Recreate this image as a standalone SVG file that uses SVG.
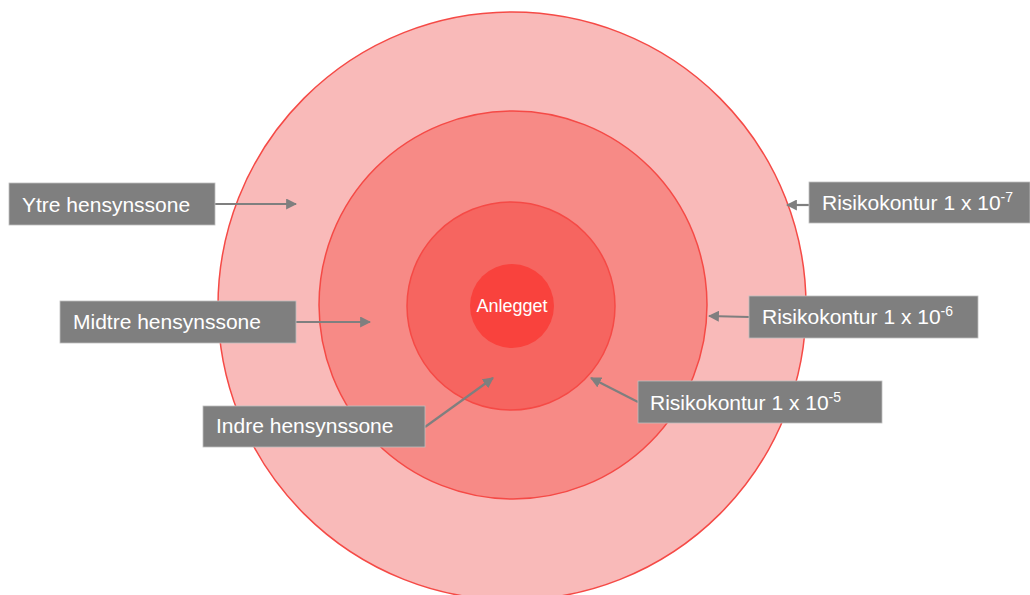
<svg xmlns="http://www.w3.org/2000/svg" width="1030" height="595" viewBox="0 0 1030 595">
<style>
.lbl{fill:#7f7f7f;stroke:#bfbfbf;stroke-width:0.8}
.t{font-family:"Liberation Sans",Arial,sans-serif;font-size:21px;fill:#ffffff}
.sup{font-size:14px}
.con{stroke:#7f7f7f;stroke-width:2.2;fill:none;marker-end:url(#ah)}
.ring{stroke:#f54a46;stroke-width:1.5}
</style>
<defs>
<marker id="ah" viewBox="0 0 10 10" refX="9" refY="5" markerWidth="5" markerHeight="5" orient="auto" markerUnits="strokeWidth">
<path d="M0,0 L10,5 L0,10 Z" fill="#7f7f7f"/>
</marker>
</defs>
<rect width="1030" height="595" fill="#ffffff"/>
<g id="outer"><circle class="ring" cx="512" cy="306" r="294" fill="#f9bab9"/></g>
<g id="middle"><circle class="ring" cx="513" cy="305" r="194" fill="#f78a86"/></g>
<g id="inner"><circle class="ring" cx="511" cy="306" r="104" fill="#f66560"/></g>
<g id="anlegget"><circle cx="512" cy="306" r="42" fill="#f9423d"/>
<text class="t" x="512" y="312" text-anchor="middle" style="font-size:18px">Anlegget</text></g>
<g id="connectors">
<line class="con" x1="215" y1="204" x2="296" y2="204"/>
<line class="con" x1="296" y1="322" x2="370" y2="322"/>
<line class="con" x1="425" y1="427" x2="493" y2="378"/>
<line class="con" x1="809" y1="205" x2="787" y2="205"/>
<line class="con" x1="749" y1="317" x2="709" y2="316"/>
<line class="con" x1="638" y1="402" x2="591" y2="378"/>
</g>
<g id="ytre"><rect class="lbl" x="9" y="183" width="206" height="42"/>
<text class="t" x="22" y="212">Ytre hensynssone</text></g>
<g id="midtre"><rect class="lbl" x="60" y="301" width="236" height="42"/>
<text class="t" x="73" y="329">Midtre hensynssone</text></g>
<g id="indre"><rect class="lbl" x="203" y="406" width="222" height="41"/>
<text class="t" x="216" y="433">Indre hensynssone</text></g>
<g id="risk7"><rect class="lbl" x="809" y="182" width="221" height="41"/>
<text class="t" x="822" y="210">Risikokontur 1 x 10<tspan class="sup" dy="-8">-7</tspan></text></g>
<g id="risk6"><rect class="lbl" x="749" y="296" width="229" height="42"/>
<text class="t" x="762" y="324">Risikokontur 1 x 10<tspan class="sup" dy="-8">-6</tspan></text></g>
<g id="risk5"><rect class="lbl" x="638" y="381" width="244" height="42"/>
<text class="t" x="650" y="410">Risikokontur 1 x 10<tspan class="sup" dy="-8">-5</tspan></text></g>
</svg>
